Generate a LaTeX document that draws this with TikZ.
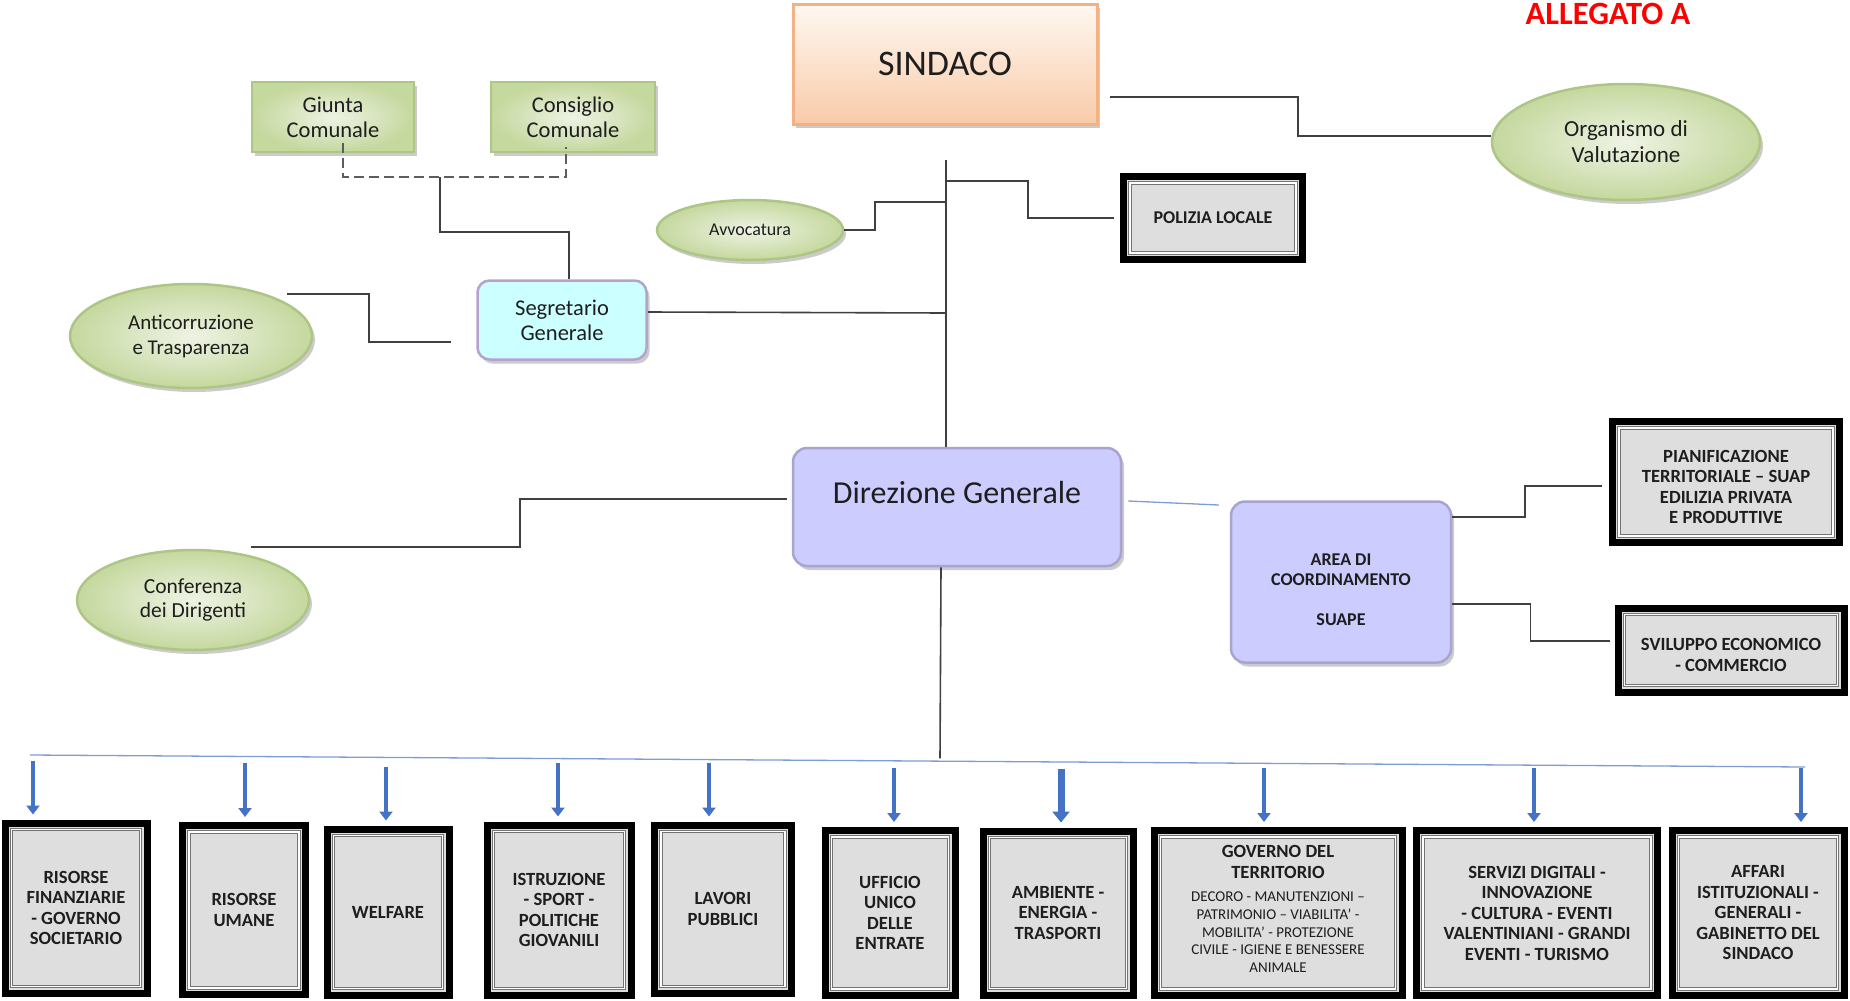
\documentclass[tikz,border=0pt]{standalone}
\usepackage{fontspec}
\setmainfont{Carlito}
\usetikzlibrary{shapes.geometric,arrows.meta,calc,shadows}
\definecolor{connc}{HTML}{404040}
\definecolor{boxg}{HTML}{DEDEDE}
\definecolor{lav}{HTML}{CCCCFF}
\definecolor{lavb}{HTML}{A9A3CF}
\definecolor{cyanf}{HTML}{CCFFFF}
\definecolor{segb}{HTML}{B5A3CF}
\definecolor{grnI}{HTML}{EEF3E4}
\definecolor{grnO}{HTML}{C5D89E}
\definecolor{grnB}{HTML}{ADC685}
\definecolor{peachT}{HTML}{FFF8F2}
\definecolor{peachB}{HTML}{F8CBA8}
\definecolor{peachD}{HTML}{F4B183}
\definecolor{busc}{HTML}{7E9DD6}
\definecolor{arrc}{HTML}{4472C4}
\definecolor{redA}{HTML}{FF0000}
\definecolor{txt}{HTML}{1E1E1E}
\newcommand\gsm{\mdseries\fontsize{15}{17.7}\selectfont}
\newcommand\shiftt[2]{\raisebox{#1}[\height][\depth]{\begin{tabular}{@{}c@{}}#2\end{tabular}}}
\tikzset{
  conn/.style={draw=connc, line width=1.6pt},
  dashconn/.style={draw=connc!85, line width=1.8pt, dash pattern=on 10pt off 5pt},
  busline/.style={draw=busc, line width=1.3pt},
  arr/.style={draw=arrc, line width=4.5pt, -{Triangle[width=13pt,length=9pt]}},
  arrthick/.style={draw=arrc, line width=7pt, -{Triangle[width=17pt,length=11pt]}},
  shad/.style={drop shadow={shadow xshift=3pt, shadow yshift=-4pt, opacity=0.45, fill=black!45}},
  fbox/.style={rectangle, draw=black, line width=7pt, fill=boxg, align=center, text=txt,
    font=\bfseries\fontsize{18.6}{20.5}\selectfont, inner sep=3pt,
    path picture={\draw[draw=black!55, line width=0.9pt, double=white, double distance=1.3pt]
      ([shift={(6.5pt,-6.5pt)}]path picture bounding box.north west) rectangle
      ([shift={(-6.5pt,6.5pt)}]path picture bounding box.south east);}},
  ell/.style={ellipse, draw=grnB, line width=2.5pt, shading=radial, inner color=grnI, outer color=grnO,
    shad, align=center, inner sep=0pt, text=txt},
  grect/.style={rectangle, draw=grnB, line width=2.5pt, shading=radial, inner color=grnI, outer color=grnO,
    shad, align=center, text=txt, font=\fontsize{22.5}{25}\selectfont},
  lavbox/.style={rectangle, rounded corners=14pt, draw=lavb, line width=2.5pt, fill=lav, shad, align=center, text=txt},
}
\begin{document}
\begin{tikzpicture}[x=1pt,y=-1pt]
\useasboundingbox (0,0) rectangle (1850,1001);

% top title
\node[font=\bfseries\fontsize{32.5}{36}\selectfont, text=redA, anchor=base] (all) at (1608,24) {ALLEGATO A};

% SINDACO
\node[rectangle, minimum width=304pt, minimum height=120pt, draw=peachD, line width=3pt,
  top color=peachT, bottom color=peachB, shad, text=txt, font=\fontsize{36}{40}\selectfont] (sin) at (945,64) {SINDACO};

% green boxes
\node[grect, minimum width=162pt, minimum height=70pt] (gi) at (333,117) {Giunta\\Comunale};
\node[grect, minimum width=164pt, minimum height=70pt] (co) at (573,117) {Consiglio\\Comunale};

% Segretario
\node[rectangle, rounded corners=12pt, draw=segb, line width=2.5pt, fill=cyanf, shad, align=center, text=txt,
  minimum width=169pt, minimum height=79pt, font=\fontsize{22.5}{25}\selectfont] (seg) at (562,320) {Segretario\\Generale};

% ellipses
\node[ell, minimum width=242pt, minimum height=104pt, font=\fontsize{21}{25}\selectfont] (ac) at (191,336) {Anticorruzione\\e Trasparenza};
\node[ell, minimum width=186pt, minimum height=60pt, font=\fontsize{18}{21}\selectfont] (av) at (750,230) {Avvocatura};
\node[ell, minimum width=268pt, minimum height=116pt, font=\fontsize{23}{26}\selectfont] (org) at (1626,142) {Organismo di\\Valutazione};
\node[ell, minimum width=232pt, minimum height=100pt, font=\fontsize{21.5}{24}\selectfont] (cf) at (193,600) {Conferenza\\dei Dirigenti};

% Polizia
\node[fbox, minimum width=179pt, minimum height=83pt, font=\bfseries\fontsize{18}{20}\selectfont] (po) at (1213,218) {POLIZIA LOCALE};

% Direzione and Area
\node[lavbox, minimum width=328pt, minimum height=118pt, font=\fontsize{32}{36}\selectfont, text depth=30pt] (dir) at (957,507) {Direzione Generale};
\node[lavbox, minimum width=220pt, minimum height=161pt, font=\bfseries\fontsize{18}{20}\selectfont] (ar) at (1341,582) {\shiftt{-9.5pt}{AREA DI\\COORDINAMENTO\\[20pt]SUAPE}};

% right boxes
\node[fbox, minimum width=227pt, minimum height=121pt] (pi) at (1726,482) {\shiftt{-7pt}{PIANIFICAZIONE\\TERRITORIALE – SUAP\\EDILIZIA PRIVATA\\E PRODUTTIVE}};
\node[fbox, minimum width=226pt, minimum height=84pt] (sv) at (1731,650) {\shiftt{-7pt}{SVILUPPO ECONOMICO\\- COMMERCIO}};

% bottom boxes
\node[fbox, minimum width=142pt, minimum height=170pt] (rf) at (76,908) {RISORSE\\FINANZIARIE\\- GOVERNO\\SOCIETARIO};
\node[fbox, minimum width=123pt, minimum height=169pt] (ru) at (244,910) {RISORSE\\UMANE};
\node[fbox, minimum width=122pt, minimum height=166pt] (wel) at (388,912) {WELFARE};
\node[fbox, minimum width=144pt, minimum height=170pt] (ist) at (559,910) {ISTRUZIONE\\- SPORT -\\POLITICHE\\GIOVANILI};
\node[fbox, minimum width=137pt, minimum height=168pt] (lp) at (723,909) {LAVORI\\PUBBLICI};
\node[fbox, minimum width=130pt, minimum height=165pt] (uu) at (890,913) {UFFICIO\\UNICO\\DELLE\\ENTRATE};
\node[fbox, minimum width=150pt, minimum height=164pt] (amb) at (1058,913) {AMBIENTE -\\ENERGIA -\\TRASPORTI};
\node[fbox, minimum width=248pt, minimum height=165pt] (gov) at (1278,913) {\shiftt{2pt}{GOVERNO DEL\\TERRITORIO\\[3pt]
  \gsm DECORO - MANUTENZIONI –\\[-2.8pt]\gsm PATRIMONIO – VIABILITA’ -\\[-2.8pt]\gsm MOBILITA’ - PROTEZIONE\\[-2.8pt]\gsm CIVILE - IGIENE E BENESSERE\\[-2.8pt]\gsm ANIMALE}};
\node[fbox, minimum width=241pt, minimum height=165pt] (sd) at (1537,913) {SERVIZI DIGITALI -\\INNOVAZIONE\\- CULTURA - EVENTI\\VALENTINIANI - GRANDI\\EVENTI - TURISMO};
\node[fbox, minimum width=172pt, minimum height=165pt] (aff) at (1758,913) {AFFARI\\ISTITUZIONALI -\\GENERALI -\\GABINETTO DEL\\SINDACO};

% coordinates
\coordinate (vt) at (946,160);
\coordinate (bl) at (30,755);
\coordinate (br) at (1805,767);

% connectors
\draw[dashconn] ($(gi.south)+(10,-10)$) -- ($(gi.south)+(10,24)$) -| ($(co.south)+(-7,-6)$);
\coordinate (dm) at ($(gi.south)+(107,24)$);
\draw[conn] (dm) |- ($(seg.north)+(7,-47)$) -- ($(seg.north)+(7,0)$);
\draw[conn] ($(seg.west)+(-25,22)$) -| ($(ac.east)+(56,-42)$) -- ($(ac.east)+(-26,-42)$);
\draw[conn] ($(seg.east)+(0,-8)$) -- ($(vt)+(0,153)$);
\draw[conn] (vt) -- (vt |- dir.north);
\draw[conn] (av.east) -| ($(av.east)+(31,-28)$) -- ($(vt)+(0,42)$);
\draw[conn] ($(vt)+(0,21)$) -| ($(po.west)+(-92,0)$) -- ($(po.west)+(-6,0)$);
\draw[conn] ($(sin.east)+(11,33)$) -| ($(org.west)+(-193,-6)$) -- ($(org.west)+(0,-6)$);
\draw[conn] ($(dir.south)+(-16,0)$) -- ($(dir.south)+(-17,191)$);
\draw[conn] ($(dir.west)+(-5,-8)$) -| ($(cf.east)+(210,-53)$) -- ($(cf.east)+(-59,-53)$);
\draw[busline] ($(dir.east)+(6,-6)$) -- ($(ar.west)+(-11,-77)$);
\draw[conn] ($(ar.east)+(0,-65)$) -| ($(pi.west)+(-84,4)$) -- ($(pi.west)+(-7,4)$);
\draw[conn] ($(ar.east)+(0,22)$) -| ($(sv.west)+(-84,-9)$) -- ($(sv.west)+(-5,-9)$);

% bus and arrows
\draw[busline] (bl) -- (br);
\draw[arr] ($(rf.north)+(-43,-59)$) -- ($(rf.north)+(-43,-5)$);
\draw[arr] ($(ru.north)+(1,-59)$) -- ($(ru.north)+(1,-5)$);
\draw[arr] ($(wel.north)+(-2,-59)$) -- ($(wel.north)+(-2,-5)$);
\draw[arr] ($(ist.north)+(-1,-59)$) -- ($(ist.north)+(-1,-5)$);
\draw[arr] ($(lp.north)+(-14,-59)$) -- ($(lp.north)+(-14,-5)$);
\draw[arr] ($(uu.north)+(4,-59)$) -- ($(uu.north)+(4,-5)$);
\draw[arrthick] ($(amb.north)+(3,-59)$) -- ($(amb.north)+(3,-5)$);
\draw[arr] ($(gov.north)+(-14,-59)$) -- ($(gov.north)+(-14,-5)$);
\draw[arr] ($(sd.north)+(-3,-59)$) -- ($(sd.north)+(-3,-5)$);
\draw[arr] ($(aff.north)+(43,-59)$) -- ($(aff.north)+(43,-5)$);
\end{tikzpicture}
\end{document}
